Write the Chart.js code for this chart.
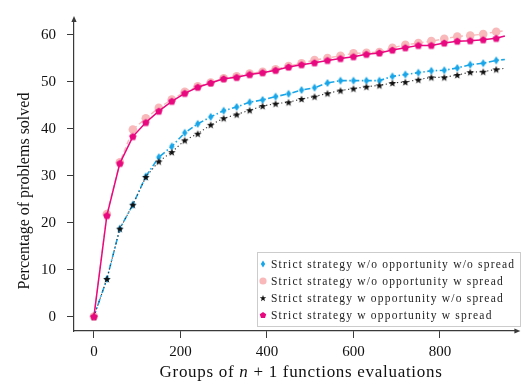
<!DOCTYPE html>
<html>
<head>
<meta charset="utf-8">
<script src="https://cdn.jsdelivr.net/npm/chart.js@4/dist/chart.umd.min.js"></script>
<style>
  html, body { margin: 0; padding: 0; background: #ffffff; }
  #wrap { width: 523px; height: 387px; }
</style>
</head>
<body>
<div id="wrap"><canvas id="c" width="523" height="387"></canvas></div>
<script>
// Evaluation budget (groups of n+1 function evaluations); markers every 30, line runs to 950
const evaluations = [0, 30, 60, 90, 120, 150, 180, 210, 240, 270, 300, 330, 360, 390, 420, 450,
  480, 510, 540, 570, 600, 630, 660, 690, 720, 750, 780, 810, 840, 870, 900, 930, 950];

// Percentage of problems solved per strategy
const noOppNoSpread = [0, 8.0, 18.7, 23.8, 29.8, 33.9, 36.2, 39.1, 41.0, 42.5, 43.8, 44.6, 45.6, 46.1, 46.8, 47.4,
  48.2, 48.7, 49.7, 50.2, 50.2, 50.2, 50.2, 51.1, 51.5, 51.9, 52.3, 52.4, 52.9, 53.6, 53.9, 54.5, 54.7];
const noOppSpread = [0, 21.8, 32.8, 39.8, 42.2, 44.4, 46.2, 47.8, 49.0, 49.8, 50.7, 51.1, 51.7, 52.1, 52.6, 53.3,
  53.9, 54.6, 55.0, 55.5, 56.0, 56.1, 56.3, 57.2, 57.8, 58.2, 58.6, 59.1, 59.6, 59.8, 60.1, 60.6, 60.8];
const oppNoSpread = [0, 8.0, 18.7, 23.8, 29.7, 33.0, 35.0, 37.5, 38.9, 40.8, 42.2, 43.0, 43.9, 44.8, 45.3, 45.6,
  46.3, 46.8, 47.5, 48.1, 48.5, 48.9, 49.2, 49.7, 49.9, 50.4, 50.9, 50.9, 51.4, 52.0, 52.1, 52.6, 52.8];
const oppSpread = [0, 21.5, 32.6, 38.3, 41.3, 43.7, 45.8, 47.5, 48.8, 49.7, 50.6, 50.9, 51.5, 51.9, 52.4, 53.1,
  53.6, 54.0, 54.5, 54.9, 55.3, 55.8, 56.1, 56.7, 57.2, 57.7, 57.7, 58.2, 58.6, 58.7, 58.9, 59.2, 59.7];

const seriesLabels = [
  'Strict strategy w/o opportunity w/o spread',
  'Strict strategy w/o opportunity w spread',
  'Strict strategy w opportunity w/o spread',
  'Strict strategy w opportunity w spread'
];

const xTickValues = [0, 200, 400, 600, 800];
const yTickValues = [0, 10, 20, 30, 40, 50, 60];

const BLUE = '#19a6e8';
const LIGHT_PINK = '#f9b8ba';
const MAGENTA = '#e8087f';
const BLACK = '#111111';

// ---- marker sprites -------------------------------------------------------
function sprite(w, h, draw) {
  const c = document.createElement('canvas');
  c.width = w; c.height = h;
  const g = c.getContext('2d');
  draw(g, w, h);
  return c;
}
function polygon(g, cx, cy, pts, fill) {
  g.beginPath();
  pts.forEach((p, i) => (i ? g.lineTo(cx + p[0], cy + p[1]) : g.moveTo(cx + p[0], cy + p[1])));
  g.closePath();
  g.fillStyle = fill;
  g.fill();
}
function starSprite(outer, inner) {
  return sprite(10, 10, (g, w, h) => {
    const pts = [];
    for (let i = 0; i < 10; i++) {
      const r = i % 2 ? inner : outer;
      const a = -Math.PI / 2 + i * Math.PI / 5;
      pts.push([r * Math.cos(a), r * Math.sin(a) + 0.4]);
    }
    polygon(g, w / 2, h / 2, pts, BLACK);
  });
}
function pentagonSprite(r) {
  return sprite(10, 10, (g, w, h) => {
    const pts = [];
    for (let i = 0; i < 5; i++) {
      const a = -Math.PI / 2 + i * 2 * Math.PI / 5;
      pts.push([r * Math.cos(a), r * Math.sin(a) + 0.3]);
    }
    polygon(g, w / 2, h / 2, pts, MAGENTA);
  });
}
function diamondSprite(hw, hh) {
  return sprite(8, 10, (g, w, h) => {
    polygon(g, w / 2, h / 2, [[0, -hh], [hw, 0], [0, hh], [-hw, 0]], BLUE);
  });
}
const thinDiamond = diamondSprite(2.7, 4.1);
const filledStar = starSprite(4.0, 1.7);
const pentagon = pentagonSprite(3.9);
const legendDiamond = diamondSprite(2.2, 3.4);
const legendStar = starSprite(3.4, 1.4);
const legendPentagon = pentagonSprite(3.4);

const lastIdx = evaluations.length - 1;
const toPoints = vals => vals.map((v, i) => ({ x: evaluations[i], y: v }));
const hideLast = r => ctx => (ctx.dataIndex === lastIdx ? 0 : r);

const datasets = [
  {
    label: seriesLabels[0], data: toPoints(noOppNoSpread), order: 3,
    borderColor: BLUE, borderWidth: 1.6, borderDash: [6, 2.5, 1.5, 2.5],
    pointStyle: thinDiamond, pointRadius: hideLast(4), legendMarker: legendDiamond
  },
  {
    label: seriesLabels[1], data: toPoints(noOppSpread), order: 2,
    borderColor: LIGHT_PINK, borderWidth: 1.4, borderDash: [5, 3],
    pointStyle: 'circle', pointRadius: hideLast(4.3), pointBackgroundColor: LIGHT_PINK,
    pointBorderWidth: 0, legendMarker: 'circle'
  },
  {
    label: seriesLabels[2], data: toPoints(oppNoSpread), order: 1,
    borderColor: '#333333', borderWidth: 1.1, borderDash: [1.2, 2.6],
    pointStyle: filledStar, pointRadius: hideLast(4), legendMarker: legendStar
  },
  {
    label: seriesLabels[3], data: toPoints(oppSpread), order: 0,
    borderColor: MAGENTA, borderWidth: 1.5,
    pointStyle: pentagon, pointRadius: hideLast(4), legendMarker: legendPentagon
  }
];

// ---- axis decorations, titles and legend ----------------------------------
const SERIF = '"Liberation Serif", "DejaVu Serif", serif';
const AXIS_COLOR = '#3a3a3a';

// extra letter spacing that makes a run of text span the given width
function spacingFor(ctx, text, width) {
  ctx.letterSpacing = '0px';
  const w = ctx.measureText(text).width;
  return Math.max(0, (width - w) / text.length);
}

const decorations = {
  id: 'decorations',
  afterDraw(chart) {
    const { ctx, chartArea: a } = chart;
    ctx.save();
    ctx.fillStyle = AXIS_COLOR;
    // arrow heads at the ends of both axes
    ctx.beginPath();
    ctx.moveTo(a.left, a.top - 4);
    ctx.lineTo(a.left - 2.6, a.top + 2);
    ctx.lineTo(a.left + 2.6, a.top + 2);
    ctx.closePath();
    ctx.fill();
    ctx.beginPath();
    ctx.moveTo(a.right + 3, a.bottom);
    ctx.lineTo(a.right - 3, a.bottom - 2.6);
    ctx.lineTo(a.right - 3, a.bottom + 2.6);
    ctx.closePath();
    ctx.fill();

    // y-axis title
    ctx.fillStyle = '#111';
    const yTitle = 'Percentage of problems solved';
    ctx.font = '16px ' + SERIF;
    ctx.letterSpacing = spacingFor(ctx, yTitle, 184).toFixed(2) + 'px';
    ctx.textAlign = 'center';
    ctx.textBaseline = 'middle';
    ctx.save();
    ctx.translate(25, 191);
    ctx.rotate(-Math.PI / 2);
    ctx.fillText(yTitle, 0, 0);
    ctx.restore();

    // x-axis title with italic n
    const plain = '17px ' + SERIF;
    ctx.font = plain;
    const xsp = spacingFor(ctx, 'Groups of n + 1 functions evaluations', 283).toFixed(2) + 'px';
    ctx.letterSpacing = xsp;
    const parts = [
      ['Groups of ', plain],
      ['n', 'italic ' + plain],
      [' + 1 functions evaluations', plain]
    ];
    let total = 0;
    parts.forEach(p => { ctx.font = p[1]; total += ctx.measureText(p[0]).width; });
    let x = 301 - total / 2;
    ctx.textAlign = 'left';
    parts.forEach(p => { ctx.font = p[1]; ctx.fillText(p[0], x, 373); x += ctx.measureText(p[0]).width; });

    // legend
    ctx.letterSpacing = '0px';
    const box = { x: 257, y: 252, w: 264, h: 75 };
    ctx.fillStyle = 'rgba(255,255,255,0.85)';
    ctx.fillRect(box.x, box.y, box.w, box.h);
    ctx.strokeStyle = '#cccccc';
    ctx.lineWidth = 1;
    ctx.strokeRect(box.x + 0.5, box.y + 0.5, box.w - 1, box.h - 1);
    ctx.font = '11.5px ' + SERIF;
    ctx.letterSpacing = '1.2px';
    ctx.textBaseline = 'middle';
    chart.data.datasets.forEach((ds, i) => {
      const cy = box.y + 12 + i * 17;
      const m = ds.legendMarker;
      if (m === 'circle') {
        ctx.fillStyle = LIGHT_PINK;
        ctx.beginPath();
        ctx.arc(box.x + 6, cy, 3.6, 0, Math.PI * 2);
        ctx.fill();
      } else {
        ctx.drawImage(m, box.x + 6 - m.width / 2, cy - m.height / 2);
      }
      ctx.fillStyle = '#222';
      ctx.fillText(ds.label, box.x + 14, cy + 0.5);
    });
    ctx.restore();
  }
};

new Chart(document.getElementById('c'), {
  type: 'line',
  data: { datasets },
  options: {
    responsive: false,
    devicePixelRatio: 1,
    animation: false,
    layout: { padding: { top: 8, right: 3, left: 0, bottom: 0 } },
    elements: { line: { tension: 0 } },
    plugins: { legend: { display: false }, tooltip: { enabled: false } },
    scales: {
      x: {
        type: 'linear',
        min: -46, max: 979,
        afterBuildTicks: s => { s.ticks = xTickValues.map(v => ({ value: v })); },
        afterFit: s => { s.height = 56; },
        grid: { display: true, drawOnChartArea: false, drawTicks: true, tickLength: 7, color: AXIS_COLOR, lineWidth: 1 },
        border: { display: true, color: AXIS_COLOR, width: 1.2 },
        ticks: { color: '#111', font: { family: SERIF, size: 15 }, padding: 5, maxRotation: 0 }
      },
      y: {
        type: 'linear',
        min: -3.07, max: 63.1,
        afterBuildTicks: s => { s.ticks = yTickValues.map(v => ({ value: v })); },
        afterFit: s => { s.width = 74; },
        grid: { display: true, drawOnChartArea: false, drawTicks: true, tickLength: 7, color: AXIS_COLOR, lineWidth: 1 },
        border: { display: true, color: AXIS_COLOR, width: 1.2 },
        ticks: { color: '#111', font: { family: SERIF, size: 15 }, padding: 11 }
      }
    }
  },
  plugins: [decorations]
});
</script>
</body>
</html>
